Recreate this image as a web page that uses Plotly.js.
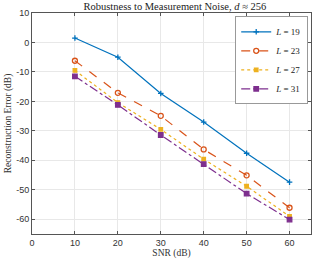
<!DOCTYPE html>
<html><head><meta charset="utf-8">
<script src="https://cdn.plot.ly/plotly-3.0.1.min.js"></script>
<style>html,body{margin:0;padding:0;background:#fff}#c{width:318px;height:266px}</style>
</head><body><div id="c"></div>
<script>
const snr = [10, 20, 30, 40, 50, 60];
const seriesNames = ["<i>L</i> = 19", "<i>L</i> = 23", "<i>L</i> = 27", "<i>L</i> = 31"];
const errL19 = [1.5, -5.0, -17.3, -27.0, -37.6, -47.4];
const errL23 = [-6.2, -17.1, -24.9, -36.3, -45.1, -56.1];
const errL27 = [-9.5, -20.4, -29.5, -39.6, -48.8, -59.0];
const errL31 = [-11.5, -21.2, -31.4, -41.3, -51.3, -60.1];
const xTicks = [0, 10, 20, 30, 40, 50, 60];
const yTicks = [-60, -50, -40, -30, -20, -10, 0, 10];

const colors = ["#0072BD", "#D95319", "#EDB120", "#7E2F8E"];
const dashes = ["solid", "dash", "dot", "dashdot"];
const symbols = ["cross-thin-open", "circle-open", "square", "square"];
const sizes = [4, 5, 3.5, 4.5];
const allY = [errL19, errL23, errL27, errL31];

const traces = allY.map((ys, i) => ({
  x: snr, y: ys, name: seriesNames[i], type: "scatter", mode: "lines+markers",
  line: {color: colors[i], width: 1.2, dash: dashes[i]},
  marker: {symbol: symbols[i], size: sizes[i], color: colors[i],
           line: {color: colors[i], width: 1.3}}
}));

const serif = "Liberation Serif, DejaVu Serif, serif";
const sans = "Liberation Sans, Arial, sans-serif";
const layout = {
  width: 318, height: 266,
  margin: {l: 32, r: 7, t: 13, b: 32},
  paper_bgcolor: "#fff", plot_bgcolor: "#fff",
  title: {text: "Robustness to Measurement Noise, <i>d</i> ≈ 256",
          font: {family: serif, size: 10.5, color: "#222"}, x: 0.55, xanchor: "center", y: 0.99, yanchor: "top"},
  xaxis: {range: [0, 65], tickvals: xTicks, ticktext: xTicks.map(String),
          showgrid: true, gridcolor: "#e8e8e8", gridwidth: 1, zeroline: false,
          showline: true, linecolor: "#555", linewidth: 1, mirror: "ticks",
          ticks: "inside", ticklen: 3, tickcolor: "#555",
          tickfont: {family: sans, size: 9, color: "#333"},
          title: {text: "SNR (dB)", font: {family: serif, size: 9.5, color: "#333"}, standoff: 2}},
  yaxis: {range: [-65, 10], tickvals: yTicks, ticktext: yTicks.map(String),
          showgrid: true, gridcolor: "#e8e8e8", gridwidth: 1, zeroline: false,
          showline: true, linecolor: "#555", linewidth: 1, mirror: "ticks",
          ticks: "inside", ticklen: 3, tickcolor: "#555",
          tickfont: {family: sans, size: 9, color: "#333"},
          title: {text: "Reconstruction Error (dB)", font: {family: serif, size: 9.5, color: "#333"}, standoff: 2}},
  legend: {x: 0.99, y: 0.985, xanchor: "right", yanchor: "top",
           bgcolor: "#fff", bordercolor: "#999", borderwidth: 1,
           font: {family: serif, size: 9, color: "#222"},
           tracegroupgap: 0, itemwidth: 30},
  showlegend: true
};
Plotly.newPlot("c", traces, layout, {staticPlot: true, displayModeBar: false});
</script></body></html>
